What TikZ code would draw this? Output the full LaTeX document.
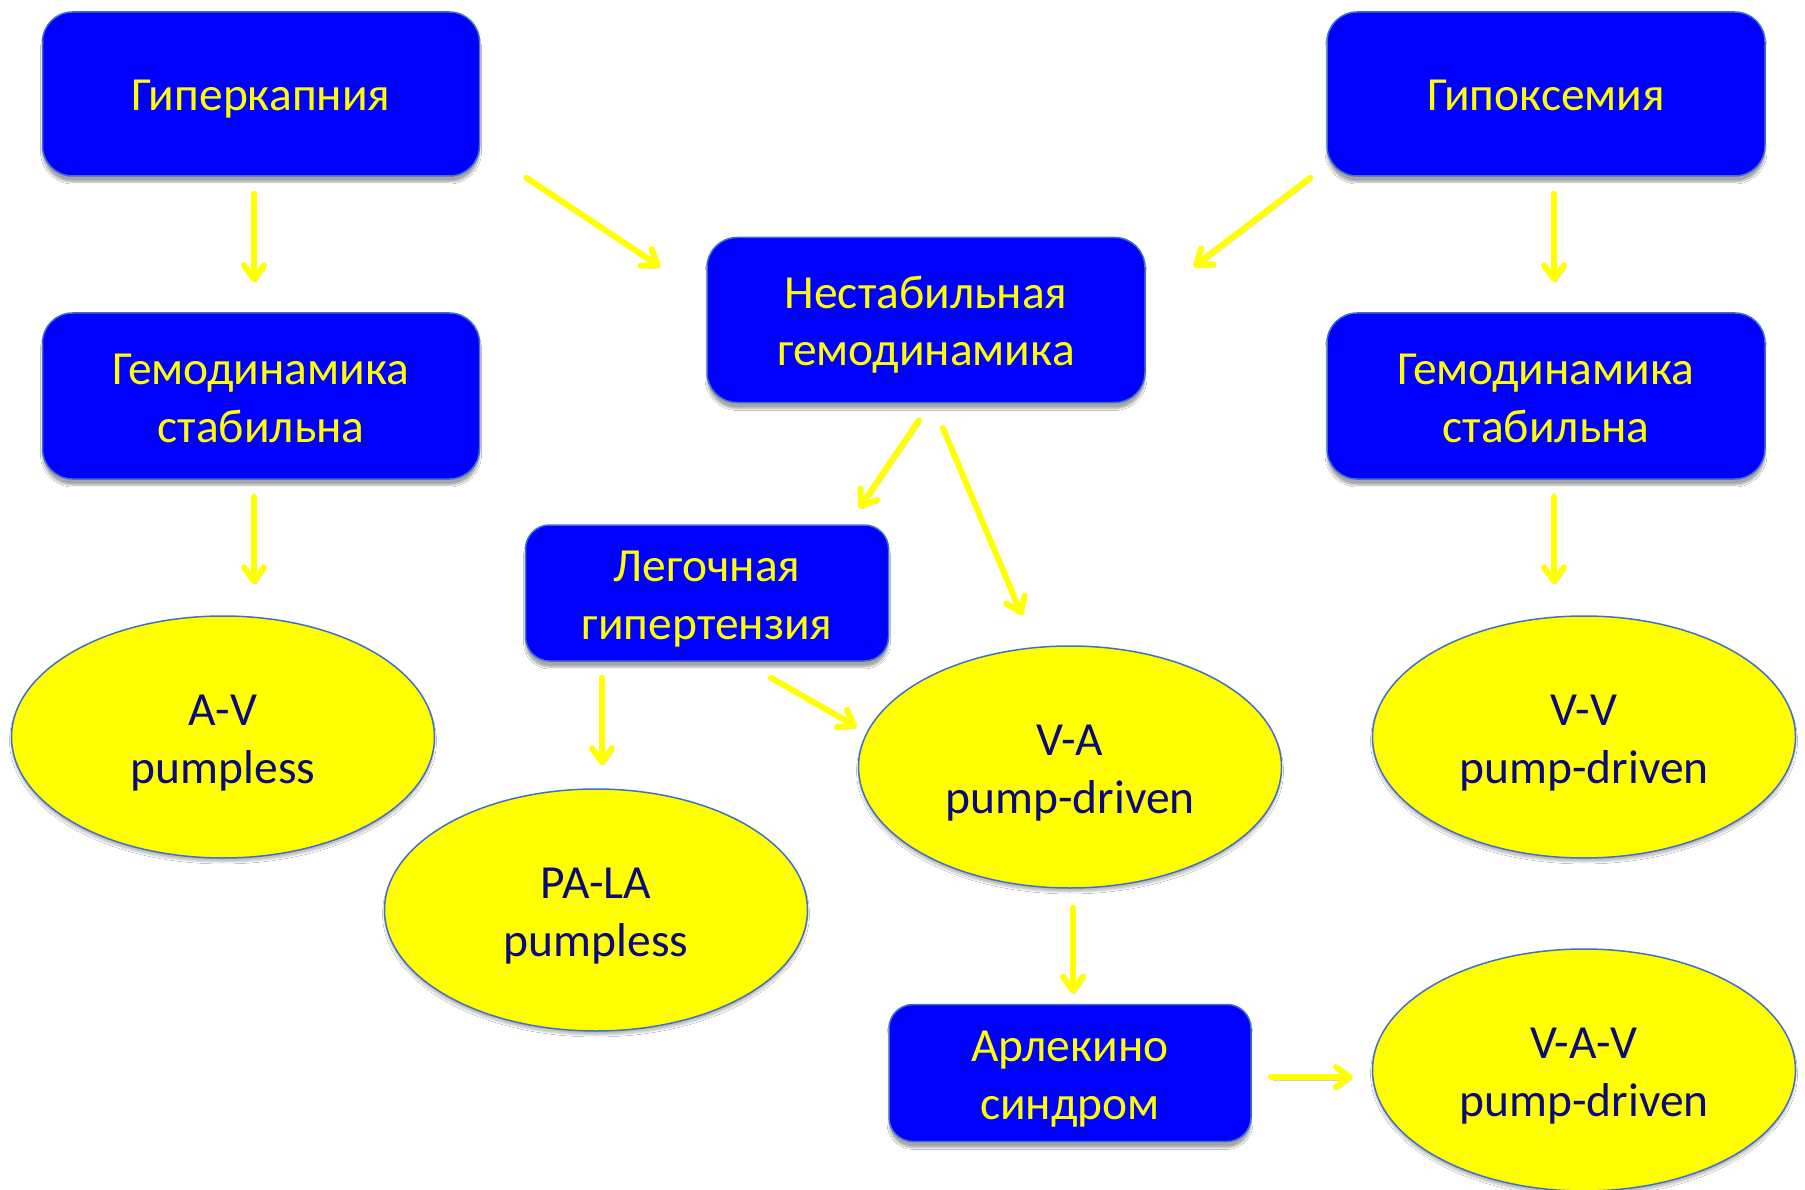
\documentclass[tikz,border=0pt]{standalone}
\usepackage{fontspec}
\setmainfont{Carlito}
\usetikzlibrary{arrows.meta,calc,shadows.blur,shapes.geometric}
\definecolor{boxblue}{RGB}{0,0,255}
\definecolor{edgeblue}{RGB}{65,113,196}
\definecolor{txtyellow}{RGB}{255,255,0}
\definecolor{navytxt}{RGB}{10,10,120}
\newcommand\toprule{\rule{0pt}{49pt}}
\newcommand\botrule{\rule[-15pt]{0pt}{0pt}}
\begin{document}
\begin{tikzpicture}[x=1pt,y=-1pt,
  box/.style={draw=edgeblue,line width=1.5pt,fill=boxblue,rounded corners=30pt,
    text=txtyellow,align=center,inner sep=0pt,
    font=\fontsize{47.5}{58}\selectfont,
    blur shadow={shadow xshift=0pt,shadow yshift=-6pt,shadow blur steps=6,shadow opacity=35}},
  oval/.style={ellipse,draw=edgeblue,line width=1.5pt,fill=txtyellow,
    text=navytxt,align=center,inner sep=0pt,minimum width=423pt,minimum height=242pt,
    font=\fontsize{47.5}{58}\selectfont,
    blur shadow={shadow xshift=0pt,shadow yshift=-4pt,shadow blur steps=5,shadow opacity=25}},
  arr/.style={draw=txtyellow,line width=6pt,line cap=round,
    -{Straight Barb[length=14pt,width=20pt,line cap=round,line join=round]},
    preaction={draw=black,opacity=0.18,transform canvas={xshift=2pt,yshift=-3pt}}}
]
\useasboundingbox[fill=white] (0,0) rectangle (1805,1190);
% boxes
\node[box,minimum width=437pt,minimum height=164pt] (hyper) at (261,94) {\toprule Гиперкапния\botrule};
\node[box,minimum width=438pt,minimum height=164pt] (hypox) at (1546,94) {\toprule Гипоксемия\botrule};
\node[box,minimum width=437pt,minimum height=166pt] (stabL) at (261,396) {\toprule Гемодинамика\\стабильна\botrule};
\node[box,minimum width=438pt,minimum height=166pt] (stabR) at (1546,396) {\toprule Гемодинамика\\стабильна\botrule};
\node[box,minimum width=438pt,minimum height=165pt] (unst) at (926,320) {\toprule Нестабильная\\гемодинамика\botrule};
\node[box,minimum width=363pt,minimum height=136pt,rounded corners=24pt] (leg) at (707,593) {\toprule Легочная\\гипертензия\botrule};
\node[box,minimum width=362pt,minimum height=137pt,rounded corners=24pt] (arl) at (1070,1073) {\toprule Арлекино\\синдром\botrule};
% ovals
\node[oval] (av) at (223,737) {\toprule A-V\\pumpless\botrule};
\node[oval] (pala) at (596,910) {\toprule PA-LA\\pumpless\botrule};
\node[oval] (va) at (1070,767) {\toprule V-A\\pump-driven\botrule};
\node[oval] (vv) at (1584,737) {\toprule V-V\\pump-driven\botrule};
\node[oval] (vav) at (1584,1070) {\toprule V-A-V\\pump-driven\botrule};
% arrows
\draw[arr] ($(hyper.south)+(-7,17)$) -- ($(stabL.north)+(-7,-30)$);
\draw[arr] ($(hyper.south east)+(46,1)$) -- ($(unst.north west)+(-46,30)$);
\draw[arr] ($(hypox.south west)+(-16,1)$) -- ($(unst.north east)+(48,30)$);
\draw[arr] ($(hypox.south)+(8,17)$) -- ($(stabR.north)+(8,-30)$);
\draw[arr] ($(stabL.south)+(-7,17)$) -- ($(av.north)+(31,-31)$);
\draw[arr] ($(stabR.south)+(8,17)$) -- ($(vv.north)+(-30,-31)$);
\draw[arr] ($(unst.south)+(-7,17)$) -- ($(leg.north east)+(-30,-16)$);
\draw[arr] ($(unst.south)+(17,25)$) -- ($(va.north)+(-48,-30)$);
\draw[arr] ($(leg.south)+(-105,16)$) -- ($(pala.north)+(6,-23)$);
\draw[arr] ($(leg.south)+(64,16)$) -- ($(va.west)+(-1,-40)$);
\draw[arr] ($(va.south)+(3,19)$) -- ($(arl.north)+(3,-10)$);
\draw[arr] ($(arl.east)+(19,4)$) -- ($(vav.west)+(-19,7)$);
\end{tikzpicture}
\end{document}
